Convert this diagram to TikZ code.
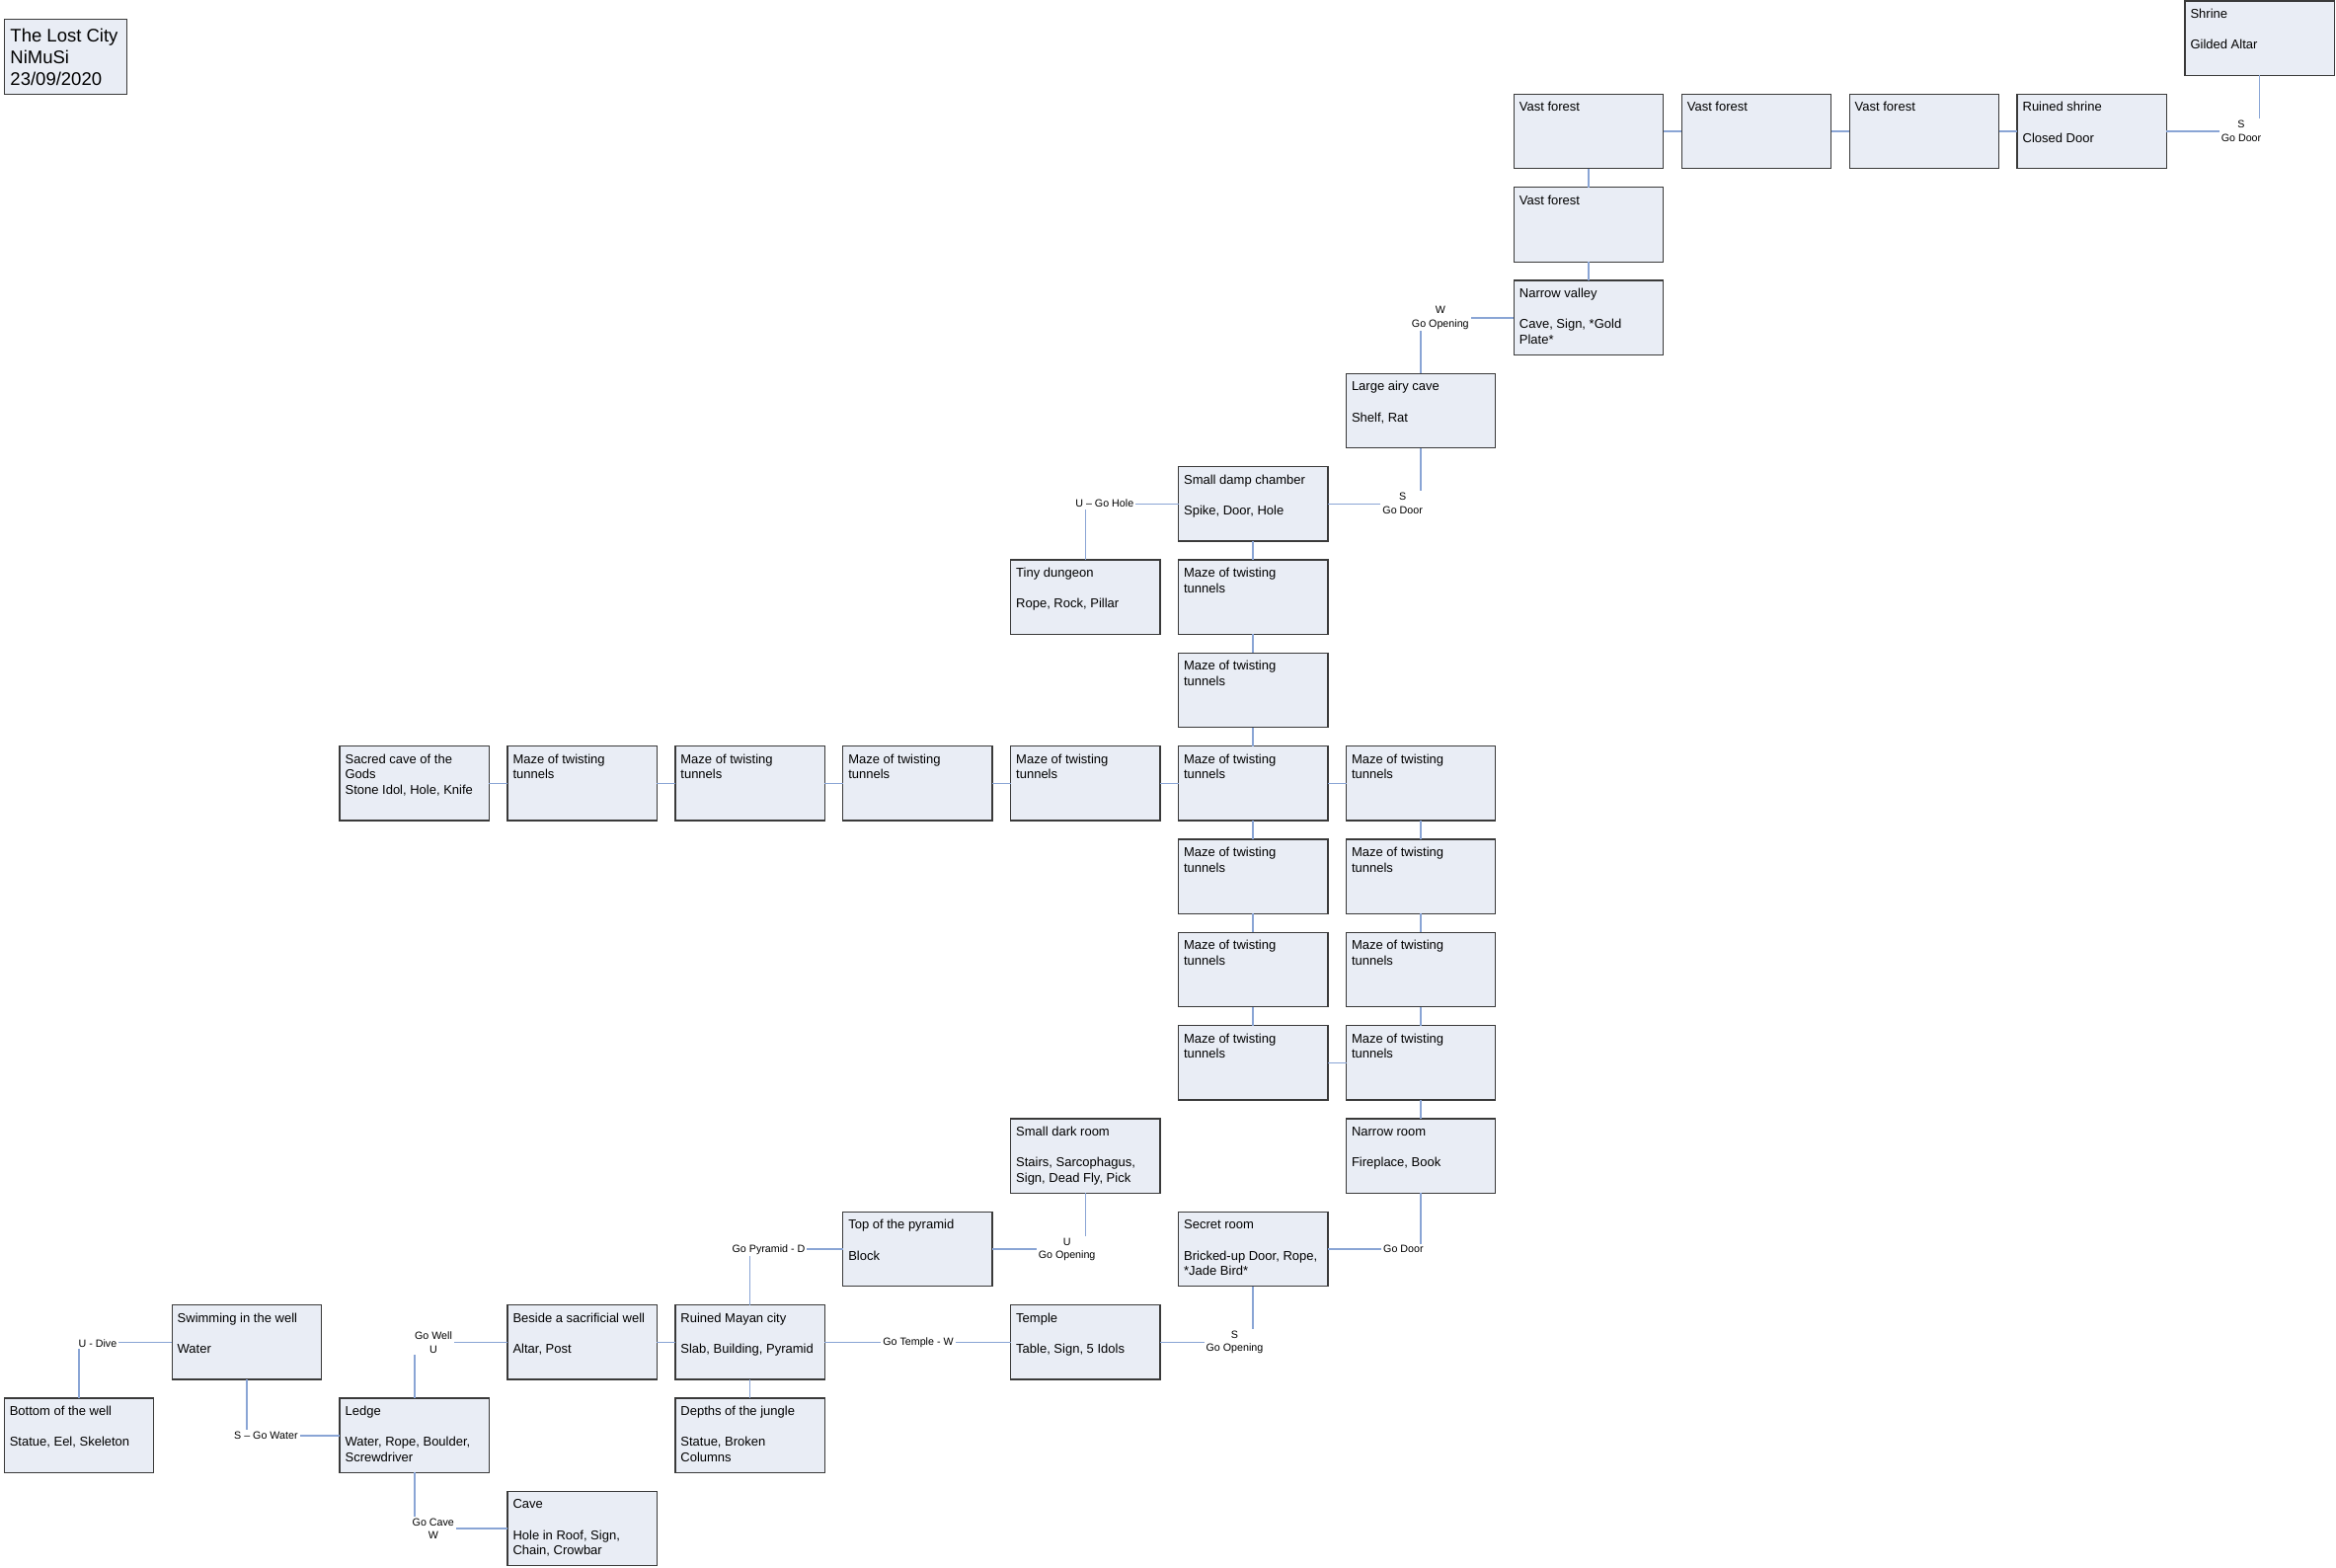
\documentclass[tikz,border=0pt]{standalone}
\usepackage{fontspec}
\setmainfont{Liberation Sans}
\definecolor{roomfill}{HTML}{E9EDF5}
\definecolor{roomline}{HTML}{3A3A3A}
\definecolor{linkblue}{HTML}{8AA5D5}
\newcommand\roomtext[1]{\parbox[c][37.75pt][t]{70.15pt}{\raggedright\vspace*{3.2pt}\strut#1}}
\newcommand\mkroom[4]{\node[room] (#1) at ({4.3+169.9*#2},{1+94.33*#3}) {\roomtext{#4}};}
\newcommand\mazetext{Maze of twisting\\tunnels}
\begin{document}
\begin{tikzpicture}[x=0.5pt,y=-0.5pt,
  room/.style={draw=roomline, line width=0.65pt, fill=roomfill, anchor=north west,
    inner xsep=2.75pt, inner ysep=0pt, minimum width=75.65pt, minimum height=37.75pt,
    outer sep=0pt, font=\fontsize{6.5pt}{7.85pt}\selectfont},
  titlebox/.style={draw=roomline, line width=0.65pt, fill=roomfill, anchor=north west,
    inner xsep=3pt, inner ysep=0pt, minimum width=62pt, minimum height=38.2pt,
    outer sep=0pt, font=\fontsize{9.25pt}{11pt}\selectfont},
  link/.style={draw=linkblue, line width=0.8pt},
  exitlabel/.style={fill=white, inner sep=1pt, align=center,
    font=\fontsize{5.35pt}{6.75pt}\selectfont}]
\useasboundingbox (0,0) rectangle (2366,1588);

\node[titlebox] (title) at (4.5,19.4) {\parbox[c][38.2pt][t]{56pt}{\vspace*{3.7pt}\strut The Lost City\\NiMuSi\\23/09/2020}};

\mkroom{shrine}{13}{0}{Shrine\\~\\Gilded Altar}
\mkroom{vfa}{9}{1}{Vast forest}
\mkroom{vfb}{10}{1}{Vast forest}
\mkroom{vfc}{11}{1}{Vast forest}
\mkroom{rs}{12}{1}{Ruined shrine\\~\\Closed Door}
\mkroom{vfd}{9}{2}{Vast forest}
\mkroom{nv}{9}{3}{Narrow valley\\~\\Cave, Sign, *Gold\\Plate*}
\mkroom{lac}{8}{4}{Large airy cave\\~\\Shelf, Rat}
\mkroom{sdc}{7}{5}{Small damp chamber\\~\\Spike, Door, Hole}
\mkroom{td}{6}{6}{Tiny dungeon\\~\\Rope, Rock, Pillar}
\mkroom{mza}{7}{6}{\mazetext}
\mkroom{mzb}{7}{7}{\mazetext}
\mkroom{sacred}{2}{8}{Sacred cave of the\\Gods\\Stone Idol, Hole, Knife}
\mkroom{mzc}{3}{8}{\mazetext}
\mkroom{mzd}{4}{8}{\mazetext}
\mkroom{mze}{5}{8}{\mazetext}
\mkroom{mzf}{6}{8}{\mazetext}
\mkroom{mzg}{7}{8}{\mazetext}
\mkroom{mzh}{8}{8}{\mazetext}
\mkroom{mzi}{7}{9}{\mazetext}
\mkroom{mzj}{8}{9}{\mazetext}
\mkroom{mzk}{7}{10}{\mazetext}
\mkroom{mzl}{8}{10}{\mazetext}
\mkroom{mzm}{7}{11}{\mazetext}
\mkroom{mzn}{8}{11}{\mazetext}
\mkroom{sdr}{6}{12}{Small dark room\\~\\Stairs, Sarcophagus,\\Sign, Dead Fly, Pick}
\mkroom{nr}{8}{12}{Narrow room\\~\\Fireplace, Book}
\mkroom{pyr}{5}{13}{Top of the pyramid\\~\\Block}
\mkroom{sr}{7}{13}{Secret room\\~\\Bricked-up Door, Rope,\\{}*Jade Bird*}
\mkroom{swim}{1}{14}{Swimming in the well\\~\\Water}
\mkroom{bw}{3}{14}{Beside a sacrificial well\\~\\Altar, Post}
\mkroom{rmc}{4}{14}{Ruined Mayan city\\~\\Slab, Building, Pyramid}
\mkroom{temple}{6}{14}{Temple\\~\\Table, Sign, 5 Idols}
\mkroom{botw}{0}{15}{Bottom of the well\\~\\Statue, Eel, Skeleton}
\mkroom{ledge}{2}{15}{Ledge\\~\\Water, Rope, Boulder,\\Screwdriver}
\mkroom{depths}{4}{15}{Depths of the jungle\\~\\Statue, Broken\\Columns}
\mkroom{cave}{3}{16}{Cave\\~\\Hole in Roof, Sign,\\Chain, Crowbar}

% simple connectors
\draw[link] (vfa) -- (vfb);
\draw[link] (vfb) -- (vfc);
\draw[link] (vfc) -- (rs);
\draw[link] (vfa) -- (vfd);
\draw[link] (vfd) -- (nv);
\draw[link] (sdc) -- (mza);
\draw[link] (mza) -- (mzb);
\draw[link] (mzb) -- (mzg);
\draw[link] (sacred) -- (mzc);
\draw[link] (mzc) -- (mzd);
\draw[link] (mzd) -- (mze);
\draw[link] (mze) -- (mzf);
\draw[link] (mzf) -- (mzg);
\draw[link] (mzg) -- (mzh);
\draw[link] (mzg) -- (mzi);
\draw[link] (mzh) -- (mzj);
\draw[link] (mzi) -- (mzk);
\draw[link] (mzj) -- (mzl);
\draw[link] (mzk) -- (mzm);
\draw[link] (mzl) -- (mzn);
\draw[link] (mzm) -- (mzn);
\draw[link] (mzn) -- (nr);
\draw[link] (rmc) -- (depths);
\draw[link] (rmc) -- (bw);
\draw[link] (temple) -- (rmc);

% elbow connectors
\draw[link] (rs.east) -| (shrine.south);
\draw[link] (nv.west) -| (lac.north);
\draw[link] (lac.south) |- (sdc.east);
\draw[link] (sdc.west) -| (td.north);
\draw[link] (nr.south) |- (sr.east);
\draw[link] (sr.south) |- (temple.east);
\draw[link] (sdr.south) |- (pyr.east);
\draw[link] (pyr.west) -| (rmc.north);
\draw[link] (bw.west) -| (ledge.north);
\draw[link] (ledge.west) -| (swim.south);
\draw[link] (swim.west) -| (botw.north);
\draw[link] (ledge.south) |- (cave.west);

% exit labels
\node[exitlabel] (l1) at (2270,132.7) {S\\Go Door};
\node[exitlabel] (l2) at (1458.8,321.7) {W\\Go Opening};
\node[exitlabel] (l3) at (1420.7,509.7) {S\\Go Door};
\node[exitlabel] (l4) at (1118.8,510) {U -- Go Hole};
\node[exitlabel] (l5) at (1421.4,1265.3) {Go Door};
\node[exitlabel] (l6) at (1250.5,1359.5) {S\\Go Opening};
\node[exitlabel] (l7) at (930,1360) {Go Temple - W};
\node[exitlabel] (l8) at (1080.6,1265.5) {U\\Go Opening};
\node[exitlabel] (l9) at (778.5,1265.3) {Go Pyramid - D};
\node[exitlabel] (l10) at (439,1359.7) {Go Well\\U};
\node[exitlabel] (l11) at (269.4,1454) {S -- Go Water};
\node[exitlabel] (l12) at (98.9,1360.3) {U - Dive};
\node[exitlabel] (l13) at (438.8,1548.5) {Go Cave\\W};
\end{tikzpicture}
\end{document}
